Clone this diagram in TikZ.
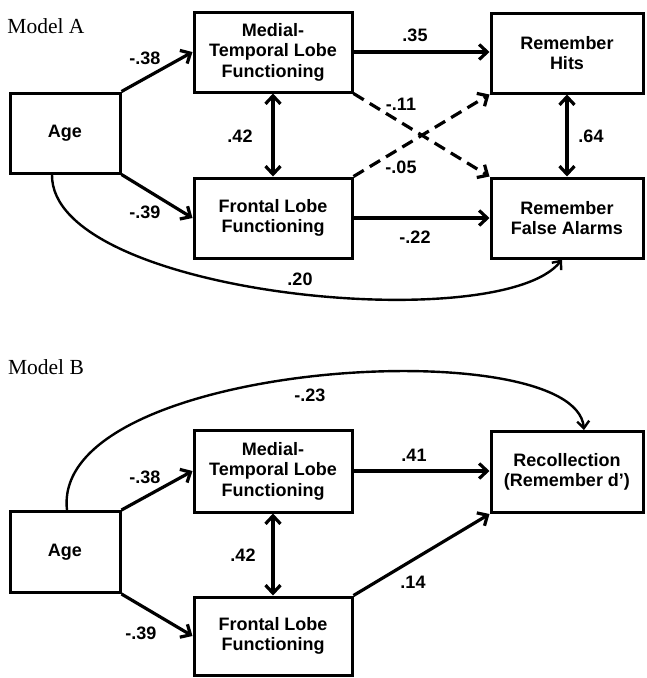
\documentclass[tikz,border=0pt]{standalone}
\usepackage{fontspec}
\setmainfont{Liberation Sans}
\newfontfamily\modelfont{Liberation Serif}
\usetikzlibrary{arrows.meta}

\begin{document}
\begin{tikzpicture}[x=1pt, y=-1pt,
		box/.style={draw, line width=3pt, align=center, inner sep=0pt, font=\fontsize{18}{20.5}\selectfont\bfseries},
		num/.style={font=\fontsize{18}{20}\selectfont\bfseries},
		arrowline/.style={line width=3.2pt, -{Straight Barb[length=8pt,width=15pt]}},
		twoway/.style={line width=3.2pt, {Straight Barb[length=8pt,width=15pt]}-{Straight Barb[length=8pt,width=15pt]}},
		curvearrow/.style={line width=2.4pt, -{Straight Barb[length=7pt,width=12pt]}},
		dashline/.style={dash pattern=on 12pt off 7pt}]
		\useasboundingbox (0,0) rectangle (646,678);
		% Model A
		\node[font=\fontsize{21.5}{24}\selectfont\modelfont] (titleA) at (46,26) {Model A};
		\node[box, minimum width=110, minimum height=80] (ageA) at (65,133) {Age};
		\node[box, minimum width=158, minimum height=80] (mtlA) at (273,52) {Medial-\\Temporal Lobe\\Functioning};
		\node[box, minimum width=158, minimum height=80] (flA) at (273,218) {Frontal Lobe\\Functioning};
		\node[box, minimum width=152, minimum height=80] (hitsA) at (567,53) {Remember\\Hits};
		\node[box, minimum width=152, minimum height=80] (faA) at (567,218) {Remember\\False Alarms};
		\draw[arrowline] (ageA.north east) -- (mtlA.west);
		\draw[arrowline] (ageA.south east) -- (flA.west);
		\draw[twoway] (mtlA) -- (flA);
		\draw[arrowline] (mtlA.east) -- (mtlA.east -| hitsA.west);
		\draw[arrowline] (flA.east) -- (faA.west);
		\draw[arrowline, dashline] (mtlA.south east) -- (faA.north west);
		\draw[arrowline, dashline] (flA.north east) -- (hitsA.south west);
		\draw[twoway] (hitsA) -- (faA);
		\draw[curvearrow] ([xshift=-13pt]ageA.south) .. controls (50,295) and (500,338) .. ([xshift=-5pt]faA.south);
		\node[num] (a1) at (145,58) {-.38};
		\node[num] (a2) at (145,212) {-.39};
		\node[num] (a3) at (240,136) {.42};
		\node[num] (a4) at (415,35) {.35};
		\node[num] (a5) at (401,104) {-.11};
		\node[num] (a6) at (401,167) {-.05};
		\node[num] (a7) at (415,237) {-.22};
		\node[num] (a8) at (591,136) {.64};
		\node[num] (a9) at (300,279) {.20};
		% Model B
		\node[font=\fontsize{21.5}{24}\selectfont\modelfont] (titleB) at (46,367) {Model B};
		\node[box, minimum width=110, minimum height=81] (ageB) at (65,552) {Age};
		\node[box, minimum width=158, minimum height=82] (mtlB) at (273,471) {Medial-\\Temporal Lobe\\Functioning};
		\node[box, minimum width=158, minimum height=78] (flB) at (273,636) {Frontal Lobe\\Functioning};
		\node[box, minimum width=152, minimum height=81] (recB) at (567,472) {Recollection\\(Remember d’)};
		\draw[arrowline] (ageB.north east) -- (mtlB.west);
		\draw[arrowline] (ageB.south east) -- (flB.west);
		\draw[twoway] (mtlB) -- (flB);
		\draw[arrowline] (mtlB.east) -- (mtlB.east -| recB.west);
		\draw[arrowline] (flB.north east) -- (recB.south west);
		\draw[curvearrow] ([xshift=2pt]ageB.north) .. controls (50,360) and (575,330) .. ([xshift=17pt]recB.north);
		\node[num] (b1) at (145,477) {-.38};
		\node[num] (b2) at (141,633) {-.39};
		\node[num] (b3) at (243,555) {.42};
		\node[num] (b4) at (414,455) {.41};
		\node[num] (b5) at (413,582) {.14};
		\node[num] (b6) at (310,395) {-.23};
\end{tikzpicture}
\end{document}
